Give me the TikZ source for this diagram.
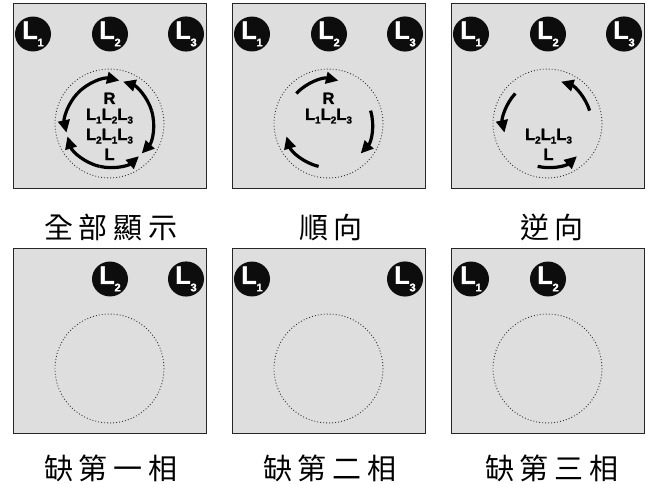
\documentclass[tikz,border=0pt]{standalone}
\usepackage{fontspec}
\setmainfont{Liberation Sans}
\newfontfamily\heavy{Liberation Sans}[BoldFeatures={FakeBold=1.6}]
\newfontfamily\cjk{Noto Sans CJK TC}
\usetikzlibrary{arrows.meta,shapes.geometric,calc}
\tikzset{
  panel/.style={draw=black!85, line width=1.4pt, fill=black!13, minimum width=193pt, minimum height=185pt, anchor=north west, inner sep=0pt},
  badge/.style={ellipse, fill=black!95, minimum width=36pt, minimum height=34pt, inner sep=0pt, text=white},
  dotcirc/.style={draw=black!80, line width=0.9pt, dash pattern=on 0.9pt off 2.1pt},
  rot/.style={line width=3.2pt, -{Triangle[length=12.5pt,width=11.5pt]}},
  lbl/.style={font=\cjk\fontsize{29}{29}\selectfont, inner sep=0pt},
  phase/.style={inner sep=0pt, anchor=base}
}
\newcommand\BadgeL[1]{\heavy\bfseries\fontsize{25}{25}\selectfont L\raisebox{-7.5pt}{\fontsize{11}{11}\selectfont #1}}
\newcommand\PhL[1]{L\raisebox{-3.5pt}{\fontsize{10}{10}\selectfont #1}}
\newcommand\PhFont{\heavy\bfseries\fontsize{16.5}{16.5}\selectfont}
\newcommand\cjksp{\hspace{6pt}}
\begin{document}
\begin{tikzpicture}[x=1pt,y=-1pt]
\useasboundingbox (0,0) rectangle (650,484);
\fill[white] (0,0) rectangle (650,484);
% panels
\node[panel] (P1) at (13,3) {};
\node[panel] (P2) at (232,3) {};
\node[panel] (P3) at (451,3) {};
\node[panel] (P4) at (13,248) {};
\node[panel] (P5) at (232,248) {};
\node[panel] (P6) at (451,248) {};
% dotted circles
\coordinate (C1) at (109.5,123.5);
\coordinate (C2) at (328.5,123.5);
\coordinate (C3) at (547.5,123.5);
\coordinate (C4) at (109.5,368.5);
\coordinate (C5) at (328.5,368.5);
\coordinate (C6) at (547.5,368.5);
\foreach \c in {C1,C2,C3,C4,C5,C6} \draw[dotcirc] (\c) circle[radius=54.5];
% badges
\node[badge] (P1a) at (33,34) {\BadgeL{1}};
\node[badge] (P1b) at (110,34) {\BadgeL{2}};
\node[badge] (P1c) at (186,34) {\BadgeL{3}};
\node[badge] (P2a) at (252,34) {\BadgeL{1}};
\node[badge] (P2b) at (329,34) {\BadgeL{2}};
\node[badge] (P2c) at (405,34) {\BadgeL{3}};
\node[badge] (P3a) at (471,34) {\BadgeL{1}};
\node[badge] (P3b) at (548,34) {\BadgeL{2}};
\node[badge] (P3c) at (624,34) {\BadgeL{3}};
\node[badge] (P4b) at (110,279) {\BadgeL{2}};
\node[badge] (P4c) at (186,279) {\BadgeL{3}};
\node[badge] (P5a) at (252,279) {\BadgeL{1}};
\node[badge] (P5c) at (405,279) {\BadgeL{3}};
\node[badge] (P6a) at (471,279) {\BadgeL{1}};
\node[badge] (P6b) at (548,279) {\BadgeL{2}};
% panel 1 texts
\node[phase] (T1r) at (109.5,104) {\PhFont R};
\node[phase] (T1a) at (109.5,120) {\PhFont\PhL{1}\PhL{2}\PhL{3}};
\node[phase] (T1b) at (109.5,140) {\PhFont\PhL{2}\PhL{1}\PhL{3}};
\node[phase] (T1l) at (109.5,160) {\PhFont L};
% panel 2 texts
\node[phase] (T2r) at (328.5,104) {\PhFont R};
\node[phase] (T2a) at (328.5,120) {\PhFont\PhL{1}\PhL{2}\PhL{3}};
% panel 3 texts
\node[phase] (T3b) at (548.5,140) {\PhFont\PhL{2}\PhL{1}\PhL{3}};
\node[phase] (T3l) at (548.5,160) {\PhFont L};
% arrows: clockwise (panels 1 and 2)
\foreach \c in {C1,C2}{
  \draw[rot] ($(\c)+(-137:44)$) arc[start angle=-137, end angle=-77, radius=44];
  \draw[rot] ($(\c)+(-17:44)$) arc[start angle=-17, end angle=43, radius=44];
  \draw[rot] ($(\c)+(-257:44)$) arc[start angle=-257, end angle=-197, radius=44];
}
% arrows: counter-clockwise (panels 1 and 3)
\foreach \c in {C1,C3}{
  \draw[rot] ($(\c)+(-17:44)$) arc[start angle=-17, end angle=-72, radius=44];
  \draw[rot] ($(\c)+(-137:44)$) arc[start angle=-137, end angle=-192, radius=44];
  \draw[rot] ($(\c)+(-257:44)$) arc[start angle=-257, end angle=-312, radius=44];
}
% labels
\node[lbl] (L1) at (111,227) {全\cjksp 部\cjksp 顯\cjksp 示};
\node[lbl] (L2) at (331,227) {順\cjksp 向};
\node[lbl] (L3) at (552,227) {逆\cjksp 向};
\node[lbl] (L4) at (111,468) {缺\cjksp 第\cjksp 一\cjksp 相};
\node[lbl] (L5) at (330,468) {缺\cjksp 第\cjksp 二\cjksp 相};
\node[lbl] (L6) at (552,468) {缺\cjksp 第\cjksp 三\cjksp 相};
\end{tikzpicture}
\end{document}
